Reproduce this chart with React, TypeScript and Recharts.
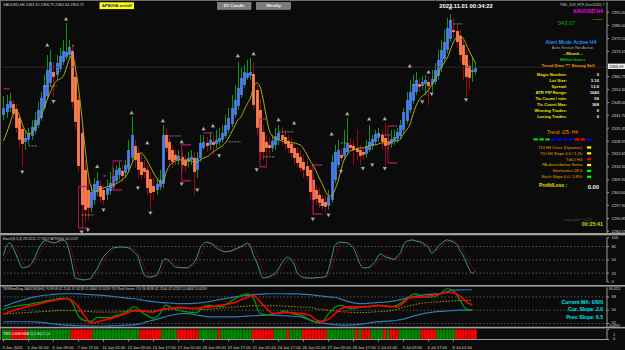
import React from "react";
import {
  ComposedChart,
  Bar,
  Line,
  Scatter,
  XAxis,
  YAxis,
  ReferenceLine,
  Cell,
} from "recharts";

// Heiken Ashi candles, H4 XAUUSD (one value per bar)
const haOpen = [
  2341.9, 2343.3, 2345.3, 2347.3, 2344.8, 2340.4, 2335.0, 2328.6, 2329.6, 2331.5,
  2334.0, 2336.9, 2340.4, 2345.3, 2351.2, 2357.6, 2363.0, 2361.6, 2364.5, 2368.0,
  2370.4, 2371.4, 2373.4, 2360.6, 2349.3, 2333.0, 2314.8, 2304.9, 2296.1, 2300.0,
  2303.9, 2306.9, 2304.9, 2302.5, 2304.4, 2306.4, 2309.4, 2312.3, 2314.3, 2313.3,
  2315.3, 2320.7, 2326.6, 2323.1, 2318.7, 2315.8, 2314.8, 2310.3, 2306.9, 2304.9,
  2306.4, 2307.9, 2332.0, 2328.6, 2324.6, 2322.2, 2319.7, 2321.2, 2319.7, 2318.7,
  2319.7, 2320.7, 2314.8, 2320.7, 2325.6, 2328.1, 2327.1, 2328.6, 2327.6, 2328.6,
  2329.6, 2331.5, 2334.5, 2337.4, 2341.9, 2346.3, 2351.7, 2356.6, 2360.1, 2361.1,
  2362.1, 2354.2, 2344.3, 2333.5, 2328.6, 2327.1, 2325.6, 2327.1, 2329.6, 2332.0,
  2331.0, 2329.1, 2327.6, 2325.6, 2323.1, 2321.2, 2318.7, 2316.7, 2314.8, 2309.9,
  2304.9, 2302.5, 2300.5, 2299.0, 2297.5, 2300.0, 2309.9, 2317.2, 2322.2, 2321.7,
  2323.6, 2327.1, 2326.6, 2325.6, 2324.6, 2323.6, 2322.7, 2324.6, 2326.6, 2328.6,
  2330.5, 2332.0, 2330.5, 2328.6, 2327.6, 2329.1, 2330.0, 2331.5, 2334.5, 2338.9,
  2344.3, 2348.8, 2353.2, 2357.1, 2356.1, 2357.1, 2358.1, 2357.1, 2358.1, 2361.1,
  2365.0, 2369.4, 2373.9, 2379.3, 2383.7, 2383.2, 2380.8, 2376.3, 2371.4, 2366.0,
  2363.0, 2363.0,
];
const haClose = [
  2345.3, 2347.3, 2348.8, 2342.4, 2335.5, 2329.6, 2327.6, 2330.5, 2333.0, 2336.0,
  2339.4, 2344.3, 2350.2, 2356.6, 2364.0, 2368.0, 2360.6, 2367.5, 2370.9, 2373.4,
  2372.9, 2375.4, 2348.3, 2338.4, 2316.7, 2297.5, 2295.1, 2296.1, 2303.9, 2307.9,
  2309.4, 2301.5, 2300.0, 2305.9, 2308.4, 2311.8, 2314.8, 2315.8, 2311.8, 2317.2,
  2324.6, 2332.0, 2319.7, 2314.8, 2312.3, 2313.8, 2305.9, 2303.4, 2303.9, 2307.9,
  2309.9, 2332.0, 2325.6, 2319.7, 2318.7, 2319.7, 2321.7, 2317.2, 2316.7, 2320.7,
  2321.2, 2313.8, 2320.7, 2328.1, 2328.6, 2326.6, 2329.6, 2327.1, 2329.6, 2330.5,
  2333.0, 2336.9, 2340.4, 2345.3, 2349.3, 2355.2, 2360.1, 2363.0, 2362.5, 2363.0,
  2346.8, 2335.5, 2323.6, 2323.6, 2325.6, 2325.6, 2329.1, 2331.5, 2333.0, 2329.6,
  2327.6, 2325.6, 2323.1, 2320.7, 2318.2, 2315.8, 2314.8, 2311.8, 2303.9, 2300.0,
  2300.5, 2298.5, 2297.0, 2296.6, 2301.5, 2318.7, 2323.6, 2324.6, 2320.7, 2325.6,
  2328.1, 2325.6, 2324.6, 2323.6, 2321.7, 2322.2, 2326.6, 2328.6, 2330.0, 2332.5,
  2333.0, 2328.6, 2326.6, 2327.1, 2330.0, 2331.0, 2333.5, 2336.9, 2343.3, 2349.3,
  2353.2, 2357.1, 2359.1, 2355.7, 2358.1, 2359.1, 2356.1, 2359.6, 2364.0, 2369.0,
  2373.9, 2377.8, 2384.7, 2388.7, 2382.7, 2377.8, 2371.4, 2366.5, 2360.6, 2360.1,
  2364.0, 2365.0,
];
const haHigh = [
  2351.2, 2351.7, 2352.7, 2349.3, 2347.3, 2342.4, 2336.9, 2333.5, 2335.5, 2339.4,
  2343.3, 2348.3, 2353.2, 2361.6, 2371.4, 2373.9, 2368.0, 2371.4, 2374.9, 2378.8,
  2387.2, 2378.8, 2376.8, 2369.0, 2351.7, 2335.5, 2319.7, 2309.9, 2307.4, 2310.8,
  2313.8, 2309.9, 2307.4, 2309.9, 2313.8, 2315.8, 2317.2, 2318.7, 2317.2, 2319.7,
  2329.6, 2340.9, 2329.6, 2326.1, 2322.2, 2319.7, 2317.2, 2313.8, 2310.8, 2310.8,
  2314.8, 2336.9, 2335.5, 2330.5, 2327.1, 2324.6, 2324.6, 2324.6, 2322.2, 2323.6,
  2324.6, 2323.6, 2323.6, 2332.0, 2332.0, 2331.0, 2333.5, 2332.0, 2334.5, 2335.5,
  2336.9, 2341.9, 2345.3, 2351.7, 2356.6, 2368.0, 2365.0, 2366.5, 2369.0, 2369.9,
  2368.0, 2356.6, 2349.3, 2336.9, 2332.0, 2330.5, 2332.0, 2335.5, 2336.9, 2335.5,
  2334.5, 2332.0, 2330.5, 2328.6, 2325.6, 2324.6, 2322.2, 2320.7, 2317.2, 2312.3,
  2307.4, 2305.9, 2302.5, 2302.0, 2304.9, 2322.2, 2327.1, 2329.6, 2325.6, 2334.5,
  2340.4, 2330.5, 2329.6, 2334.5, 2327.1, 2325.6, 2329.6, 2336.9, 2332.0, 2334.5,
  2335.5, 2334.5, 2337.9, 2332.0, 2334.5, 2334.5, 2335.5, 2339.4, 2345.3, 2353.2,
  2359.1, 2361.6, 2363.0, 2360.1, 2361.1, 2361.6, 2361.1, 2364.0, 2367.5, 2373.9,
  2378.8, 2383.7, 2389.6, 2391.6, 2389.6, 2386.7, 2383.7, 2378.8, 2373.9, 2369.0,
  2369.9, 2368.0,
];
const haLow = [
  2339.4, 2340.4, 2343.3, 2340.4, 2333.0, 2325.6, 2316.3, 2324.6, 2327.1, 2329.6,
  2332.5, 2335.5, 2338.9, 2344.3, 2349.7, 2356.1, 2350.7, 2359.1, 2363.0, 2366.5,
  2369.0, 2369.9, 2345.3, 2334.5, 2313.8, 2286.2, 2289.2, 2290.2, 2294.1, 2297.5,
  2302.0, 2298.5, 2297.5, 2300.0, 2302.5, 2304.9, 2307.9, 2309.9, 2308.9, 2310.8,
  2313.8, 2318.7, 2315.8, 2310.8, 2309.9, 2310.8, 2302.5, 2295.1, 2300.0, 2302.5,
  2304.9, 2305.9, 2323.6, 2317.2, 2315.8, 2317.2, 2317.2, 2313.8, 2313.8, 2315.8,
  2317.2, 2302.5, 2310.8, 2318.7, 2324.6, 2323.6, 2324.6, 2322.2, 2325.6, 2326.6,
  2328.1, 2330.5, 2333.0, 2336.0, 2340.4, 2344.3, 2350.2, 2355.2, 2359.1, 2359.1,
  2344.3, 2332.0, 2319.7, 2319.7, 2315.8, 2322.2, 2323.6, 2324.6, 2327.1, 2327.1,
  2324.6, 2323.1, 2320.7, 2317.2, 2315.8, 2313.8, 2310.8, 2309.9, 2300.0, 2292.6,
  2297.5, 2296.1, 2295.1, 2294.1, 2295.1, 2298.5, 2308.4, 2315.8, 2318.7, 2319.7,
  2322.2, 2323.6, 2317.2, 2319.7, 2317.2, 2319.7, 2320.7, 2323.6, 2324.6, 2327.1,
  2328.6, 2324.6, 2317.2, 2324.6, 2325.6, 2327.1, 2328.1, 2329.6, 2333.0, 2337.4,
  2342.8, 2347.3, 2351.7, 2353.2, 2354.2, 2351.7, 2346.8, 2353.2, 2356.6, 2359.1,
  2363.0, 2367.5, 2372.4, 2377.8, 2379.8, 2374.9, 2368.0, 2359.1, 2350.7, 2354.2,
  2358.1, 2361.6,
];
// olive moving average over the candles
const maLine = [
  2329.1, 2333.0, 2337.4, 2341.9, 2344.3, 2341.9, 2337.4, 2334.0, 2332.5, 2333.0,
  2335.5, 2338.4, 2341.4, 2345.3, 2349.3, 2353.2, 2356.6, 2358.6, 2359.6, 2360.6,
  2364.5, 2369.0, 2371.4, 2365.0, 2355.2, 2341.9, 2327.1, 2313.8, 2306.4, 2303.9,
  2304.4, 2305.4, 2305.9, 2306.4, 2306.9, 2307.4, 2307.9, 2308.9, 2309.9, 2311.3,
  2313.8, 2317.7, 2320.7, 2322.7, 2323.1, 2321.7, 2319.2, 2316.3, 2313.3, 2310.8,
  2308.9, 2308.4, 2313.3, 2316.7, 2318.2, 2319.2, 2319.7, 2319.7, 2319.7, 2319.7,
  2319.2, 2318.7, 2318.7, 2319.7, 2320.7, 2321.2, 2322.2, 2323.6, 2324.6, 2325.6,
  2326.6, 2328.1, 2330.5, 2333.5, 2336.4, 2339.4, 2340.9, 2344.3, 2347.3, 2350.2,
  2355.2, 2357.6, 2356.1, 2350.2, 2341.9, 2334.5, 2331.5, 2330.0, 2329.6, 2329.1,
  2328.6, 2328.6, 2328.1, 2328.1, 2327.6, 2327.1, 2325.1, 2322.7, 2319.7, 2317.2,
  2314.3, 2310.8, 2307.9, 2304.4, 2302.0, 2302.0, 2304.9, 2308.9, 2314.8, 2319.7,
  2322.2, 2324.1, 2324.6, 2325.1, 2325.6, 2325.6, 2326.1, 2326.6, 2327.1, 2327.1,
  2327.6, 2328.1, 2328.1, 2328.6, 2328.6, 2329.1, 2329.1, 2330.0, 2332.5, 2334.5,
  2336.9, 2341.9, 2346.3, 2349.3, 2351.2, 2352.2, 2354.2, 2356.6, 2359.1, 2362.1,
  2365.0, 2367.5, 2369.9, 2373.9, 2377.8, 2380.3, 2380.8, 2379.8, 2376.8, 2373.4,
  2370.4, 2367.5,
];

// fractal markers: bar index + price
const upFractalBar = [14, 20, 30, 41, 46, 51, 57, 64, 67, 75, 80, 88, 93, 105, 110, 117, 122, 130, 136, 143];
const upFractalPrice = [2376.3, 2389.1, 2316.5, 2343.0, 2328.1, 2339.0, 2328.6, 2335.0, 2336.5, 2371.0, 2372.0, 2339.5, 2337.9, 2332.5, 2342.5, 2339.9, 2340.0, 2366.0, 2363.0, 2394.6];
const dnFractalBar = [6, 16, 25, 27, 32, 43, 47, 57, 62, 69, 81, 99, 104, 108, 115, 118, 122, 134, 137, 148];
const dnFractalPrice = [2313.8, 2348.5, 2284.2, 2285.2, 2295.0, 2305.9, 2293.6, 2307.9, 2304.9, 2321.7, 2314.8, 2290.5, 2292.5, 2314.0, 2315.5, 2317.2, 2315.5, 2348.3, 2352.2, 2349.3];

// magenta range boxes (start bar, end bar, top, bottom)
const boxStart = [24, 35, 57, 82, 99, 123];
const boxEnd = [27, 38, 60, 84, 102, 126];
const boxTop = [2306.6, 2319.2, 2327.1, 2339.9, 2317.2, 2336.4];
const boxBottom = [2286.2, 2304.9, 2309.4, 2316.3, 2293.1, 2318.2];
// single magenta levels
const pinkStart = [0, 64];
const pinkEnd = [2, 67];
const pinkPrice = [2354.7, 2333.0];
// short grey levels
const greyStart = [8, 13, 22, 25, 32, 53, 72, 83, 88, 101, 108, 120, 131, 144];
const greyEnd = [11, 17, 23, 29, 33, 57, 76, 87, 93, 105, 110, 124, 133, 147];
const greyPrice = [2326.6, 2356.1, 2375.8, 2292.6, 2311.8, 2331.5, 2328.6, 2321.2, 2333.5, 2297.5, 2328.1, 2332.0, 2356.6, 2386.7];

// Stochastic (8,3,3)
const stochMain = [
  60, 82, 88, 78, 62, 45, 32, 33, 36, 42,
  55, 72, 85, 93, 93, 90, 88, 90, 93, 95,
  90, 70, 38, 9, 7, 5, 5, 6, 9, 20,
  30, 45, 57, 65, 72, 77, 78, 79, 79, 78,
  77, 72, 66, 58, 35, 16, 12, 11, 13, 16,
  30, 48, 52, 47, 40, 34, 33, 32, 32, 32,
  38, 44, 58, 78, 86, 90, 88, 84, 78, 73,
  70, 68, 69, 71, 74, 77, 80, 84, 88, 80,
  60, 45, 25, 9, 10, 12, 16, 20, 30, 42,
  52, 56, 50, 40, 20, 14, 10, 9, 9, 9,
  10, 10, 11, 12, 28, 55, 82, 88, 90, 89,
  88, 83, 76, 60, 42, 32, 32, 33, 40, 46,
  60, 63, 57, 55, 53, 51, 58, 66, 84, 92,
  94, 95, 92, 91, 88, 83, 78, 65, 70, 80,
  86, 92, 95, 93, 90, 85, 72, 61, 45, 30,
  20, 25,
];
const stochSignal = [
  50, 62, 75, 83, 76, 62, 46, 37, 34, 37,
  44, 56, 70, 83, 90, 92, 90, 89, 90, 93,
  93, 85, 66, 39, 18, 7, 6, 6, 7, 12,
  20, 32, 44, 56, 65, 71, 76, 78, 79, 79,
  78, 76, 72, 65, 53, 36, 21, 13, 12, 13,
  20, 31, 43, 49, 46, 40, 36, 33, 32, 32,
  34, 38, 47, 60, 74, 85, 88, 87, 83, 78,
  74, 70, 69, 69, 71, 74, 77, 80, 84, 84,
  76, 62, 43, 26, 15, 10, 13, 16, 22, 31,
  41, 50, 53, 49, 37, 25, 15, 11, 9, 9,
  9, 10, 10, 11, 17, 32, 55, 75, 87, 89,
  89, 87, 82, 73, 59, 45, 35, 32, 35, 40,
  49, 56, 60, 58, 55, 53, 54, 58, 69, 81,
  90, 94, 94, 93, 90, 87, 83, 75, 71, 72,
  79, 86, 91, 93, 93, 89, 82, 73, 59, 45,
  32, 28,
];

// TDI, read every second bar
const tdiRsi = [
  51, 54, 55.5, 57, 58, 59.5, 61, 63, 64.5, 66,
  66, 60, 42, 36, 35, 40, 40, 40, 43, 45,
  50, 55, 48, 43, 39, 45, 57, 53, 50, 48,
  47, 47, 55, 56.5, 55, 55, 60, 65, 70, 72,
  66, 46, 44, 44.5, 46, 49, 46, 44, 42, 37,
  34, 35, 45, 54, 56.5, 53.5, 52, 54, 54.5, 55,
  56.5, 55.5, 54.5, 57, 62, 69, 72, 68.5, 67.5, 68.5,
  73, 79, 76, 64, 52, 50,
];
const tdiSignal = [
  44.5, 48, 51, 53, 55.5, 57, 59, 61.5, 63, 64.5,
  65.5, 63, 54, 42, 33, 34, 36.5, 38.5, 41, 44,
  47, 50, 49.5, 48, 47.5, 50, 52, 53, 54, 53.5,
  52.5, 53, 54, 54.5, 56, 57, 58.5, 60.5, 64, 67.5,
  69.5, 62, 53, 46, 46, 46.5, 47, 46, 45, 43.5,
  37, 35, 38, 45, 52, 54.5, 54.5, 54.5, 55, 55.5,
  56.5, 56, 55, 54.5, 60, 67, 67.5, 68, 69, 70.5,
  72.5, 74, 73.5, 69, 62, 57,
];
const tdiUpper = [
  55, 58, 61, 63.5, 66, 68, 69.5, 70.5, 71.5, 72,
  72.2, 72.2, 72, 71.5, 71, 70.5, 70, 69, 68, 67,
  66, 65.5, 64, 62.5, 61.5, 60.5, 60, 59.5, 59, 59,
  59, 59.5, 60.5, 62, 63.5, 65, 66.5, 68, 69, 70,
  71, 71.5, 72, 72.2, 72.2, 72.2, 72, 72, 71.5, 71,
  70, 69, 68, 67.5, 65, 62, 60, 59, 59, 60,
  60.5, 61, 62, 63.5, 65, 67.5, 69, 70.5, 71.5, 72,
  72.5, 75, 77, 77.5, 77.6, 77.6,
];
const tdiLower = [
  34.4, 34.4, 34.4, 34.4, 34.4, 34.2, 33.5, 32.5, 31.5, 30.5,
  30, 29.5, 29, 28.8, 28.7, 28.7, 28.7, 28.8, 29, 29.5,
  30, 30.5, 32, 34.5, 36.7, 39, 41.5, 43.5, 45, 45.6,
  45, 43.5, 42, 41, 41, 41, 41, 41, 41.5, 42,
  42.5, 43, 43.3, 43.3, 43, 42.5, 42, 41.5, 40, 37,
  34, 32.5, 31.5, 30.5, 30, 30, 30.2, 31, 32, 33.5,
  34.5, 35, 35.5, 36.5, 38, 40.5, 43, 45, 46.5, 47.8,
  48.5, 49, 49.5, 50, 50, 50,
];
const tdiMid = [
  45, 45.5, 46, 46.5, 47, 47.5, 48, 48.5, 49, 49.5,
  49.5, 49.5, 49, 48.5, 48, 47.5, 47.5, 47.5, 47.5, 48,
  48.5, 48.5, 48.5, 49, 49, 50, 51, 51.5, 52, 52.5,
  52, 51.5, 51, 51.5, 52.5, 53, 54, 54.5, 55, 55.5,
  56, 56, 56, 56, 56, 55.5, 55, 54.5, 54, 54,
  52, 51, 50, 49, 48, 47.5, 47, 47, 47, 47.5,
  48, 48.5, 49.5, 51, 54, 56, 58, 59.5, 60.5, 61,
  61.5, 62, 62.5, 63, 63.3, 63.3,
];

// OsMA histogram: 1 = green, 0 = red
const osmaUp = [
  1, 1, 1, 0, 0, 0, 0, 0, 1, 1, 1, 1, 1, 1, 1, 1, 1, 1, 1, 1,
  1, 1, 0, 0, 0, 0, 0, 0, 0, 1, 1, 1, 1, 1, 1, 1, 1, 1, 1, 1,
  1, 1, 1, 1, 0, 0, 0, 0, 0, 0, 0, 1, 1, 1, 1, 1, 0, 0, 0, 0,
  0, 0, 0, 1, 1, 1, 1, 1, 1, 0, 1, 1, 1, 1, 1, 1, 1, 1, 1, 1,
  0, 0, 0, 0, 0, 0, 0, 1, 1, 1, 1, 0, 1, 1, 1, 1, 0, 0, 0, 0,
  0, 0, 0, 0, 1, 1, 1, 1, 1, 1, 1, 1, 1, 0, 1, 0, 0, 0, 1, 1,
  1, 1, 0, 1, 0, 0, 0, 1, 1, 1, 1, 1, 1, 1, 0, 0, 0, 0, 0, 1,
  1, 1, 1, 1, 1, 0, 0, 0, 0, 0, 0, 0,
];

const priceTicks = [
  2284.55, 2290.85, 2297.3, 2303.6, 2309.9, 2316.3, 2322.65, 2328.95, 2335.35,
  2341.7, 2348.0, 2354.3, 2360.75, 2373.15, 2379.5, 2386.0, 2392.4,
];
const timeLabels = [
  "3 Jun 2024", "5 Jun 01:00", "6 Jun 09:00", "7 Jun 17:00", "11 Jun 01:00",
  "12 Jun 09:00", "13 Jun 17:00", "17 Jun 01:00", "18 Jun 09:00", "19 Jun 17:00",
  "21 Jun 01:00", "24 Jun 17:00", "26 Jun 01:00", "27 Jun 09:00", "28 Jun 17:00",
  "2 Jul 01:00", "3 Jul 09:00", "4 Jul 17:00", "8 Jul 01:00",
];
const timeTickBars = timeLabels.map((_, k) => k * 8);

const statLabels = ["Magic Number:", "Lot Size:", "Spread:", "ATR PIP Range:", "Tic Count / min:", "Tic Count Max:", "Winning Trades:", "Losing Trades:"];
const statValues = ["0", "3.16", "13.0", "1040", "56", "368", "0", "0"];
const trendBoxes = ["#00e000", "#00e000", "#00e000", "#0000ff", "#0000ff", "#0000ff", "#0000ff", "#ff0000", "#ff0000", "#0000ff"];
const signalLabels = ["TDI H4 Cross (Dynamic):", "TDI H4 Slope 4.0 / 1.2h:", "TdiCt H4:", "PA above/below Sema:", "Stochastics 28.3:", "Stoch Slope 4.0 / 5.8%:"];
const signalColors = ["#ffff00", "#ffff00", "#ff0000", "#ffff00", "#00ff00", "#00ff00"];

const FONT = "'Liberation Sans', Arial, sans-serif";
const X_DOMAIN: [number, number] = [-0.48, 193.12];
const AXIS = "#9a9a9a";
const BG = "#0b0b0b";
const PINK = "#c4166f";

const bars = haOpen.map((o, i) => ({
  i,
  o,
  c: haClose[i],
  h: haHigh[i],
  l: haLow[i],
  range: [haLow[i], haHigh[i]],
  ma: maLine[i],
  k: stochMain[i],
  d: stochSignal[i],
  one: 1,
}));
const tdiRows = tdiRsi.map((v, k) => ({
  i: k * 2,
  rsi: v,
  sig: tdiSignal[k],
  up: tdiUpper[k],
  lo: tdiLower[k],
  mid: tdiMid[k],
}));
const upFractals = upFractalBar.map((i, k) => ({ i, p: upFractalPrice[k] }));
const dnFractals = dnFractalBar.map((i, k) => ({ i, p: dnFractalPrice[k] }));

const HaCandle = (props: any) => {
  const { x, y, width, height, payload } = props;
  if (height == null || !payload) return null;
  const { o, c, h, l } = payload;
  const k = height / (h - l || 1);
  const cx = Math.round(x + width / 2) + 0.5;
  const top = y + (h - Math.max(o, c)) * k;
  const bot = y + (h - Math.min(o, c)) * k;
  const bull = c >= o;
  return (
    <g>
      <line x1={cx} x2={cx} y1={y} y2={y + height} stroke={bull ? "#0b9a0b" : "#9e0a0a"} strokeWidth={1} />
      <rect x={cx - 1.4} y={top} width={2.8} height={Math.max(bot - top, 0.8)} fill={bull ? "#4a7fe6" : "#ff7f50"} />
    </g>
  );
};

const FractalUp = (p: any) => (
  <path d={`M${p.cx - 2},${p.cy + 1.5} L${p.cx},${p.cy - 2} L${p.cx + 2},${p.cy + 1.5} Z`} fill="#b8b8b8" stroke="#555" strokeWidth={0.4} />
);
const FractalDn = (p: any) => (
  <path d={`M${p.cx - 2},${p.cy - 1.5} L${p.cx},${p.cy + 2} L${p.cx + 2},${p.cy - 1.5} Z`} fill="#b8b8b8" stroke="#555" strokeWidth={0.4} />
);

const axisTick = (fmt: (v: number) => string, dy = 1.4) => (p: any) => (
  <text x={p.x + 0.5} y={p.y + dy} fontSize={4} fill="#d6d6d6" fontFamily={FONT}>
    {fmt(p.payload.value)}
  </text>
);

const TimeTick = (p: any) => (
  <text x={p.x - 1} y={p.y + 5} fontSize={4} fill="#d6d6d6" fontFamily={FONT}>
    {timeLabels[timeTickBars.indexOf(p.payload.value)]}
  </text>
);

const seg = (a: number, b: number, p: number) => [
  { x: a, y: p },
  { x: b, y: p },
];

const panel = (top: number): React.CSSProperties => ({ position: "absolute", left: 0, top });

export default function App() {
  return (
    <div style={{ position: "fixed", left: 0, top: 0, width: 625, height: 350, background: BG, overflow: "hidden", fontFamily: FONT }}>
      {/* price panel */}
      <div style={panel(0)}>
        <ComposedChart width={625} height={236} data={bars} margin={{ top: 2, right: 0, bottom: 3, left: 2 }}>
          <XAxis type="number" dataKey="i" domain={X_DOMAIN} allowDataOverflow hide />
          <YAxis
            orientation="right"
            width={18}
            domain={[2283.7, 2397.5]}
            allowDataOverflow
            ticks={priceTicks}
            interval={0}
            stroke={AXIS}
            tickSize={2}
            tick={axisTick((v) => v.toFixed(2))}
          />
          <ReferenceLine y={2365.4} stroke="#3a3a3a" strokeWidth={0.6} />
          {greyStart.map((a, k) => (
            <ReferenceLine key={`g${k}`} segment={seg(a, greyEnd[k], greyPrice[k])} stroke="#a6a6a6" strokeWidth={0.8} strokeDasharray="2 1" />
          ))}
          {pinkStart.map((a, k) => (
            <ReferenceLine key={`p${k}`} segment={seg(a, pinkEnd[k], pinkPrice[k])} stroke={PINK} strokeWidth={1.2} />
          ))}
          {boxStart.map((a, k) => (
            <React.Fragment key={`b${k}`}>
              <ReferenceLine segment={seg(a, boxEnd[k], boxTop[k])} stroke={PINK} strokeWidth={1.2} />
              <ReferenceLine segment={seg(a, boxEnd[k], boxBottom[k])} stroke={PINK} strokeWidth={1.2} />
              <ReferenceLine segment={[{ x: a, y: boxTop[k] }, { x: a, y: boxBottom[k] }]} stroke={PINK} strokeWidth={0.8} />
            </React.Fragment>
          ))}
          <Bar dataKey="range" barSize={3} shape={HaCandle} isAnimationActive={false} />
          <Line dataKey="ma" type="monotone" stroke="#b2a812" strokeWidth={1} dot={false} isAnimationActive={false} />
          <Scatter data={upFractals} dataKey="p" shape={FractalUp} isAnimationActive={false} />
          <Scatter data={dnFractals} dataKey="p" shape={FractalDn} isAnimationActive={false} />
        </ComposedChart>
      </div>

      {/* stochastic */}
      <div style={panel(235)}>
        <ComposedChart width={625} height={50} data={bars} margin={{ top: 2.7, right: 0, bottom: 3, left: 2 }}>
          <XAxis type="number" dataKey="i" domain={X_DOMAIN} allowDataOverflow hide />
          <YAxis orientation="right" width={18} domain={[0, 100]} ticks={[0, 20, 50, 80, 100]} interval={0} stroke={AXIS} tickSize={2} tick={axisTick((v) => String(v))} />
          {[80, 50, 20].map((v) => (
            <ReferenceLine key={v} y={v} stroke="#6a6a6a" strokeDasharray="1.5 2" strokeWidth={0.8} />
          ))}
          <Line dataKey="d" type="monotone" stroke="#b40000" strokeWidth={1} strokeDasharray="1.5 1.2" dot={false} isAnimationActive={false} />
          <Line dataKey="k" type="monotone" stroke="#2f9c9c" strokeWidth={1} dot={false} isAnimationActive={false} />
        </ComposedChart>
      </div>

      {/* TDI */}
      <div style={panel(286.5)}>
        <ComposedChart width={625} height={40.5} data={tdiRows} margin={{ top: 0.5, right: 0, bottom: 0, left: 2 }}>
          <XAxis type="number" dataKey="i" domain={X_DOMAIN} allowDataOverflow hide />
          <YAxis orientation="right" width={18} domain={[26.67, 80.67]} allowDataOverflow ticks={[32, 50, 68]} interval={0} stroke={AXIS} tickSize={2} tick={axisTick((v) => String(v), 0.8)} />
          {[68, 50, 32].map((v) => (
            <ReferenceLine key={v} y={v} stroke="#6a6a6a" strokeDasharray="1.5 2" strokeWidth={0.8} />
          ))}
          <Line dataKey="up" type="monotone" stroke="#2b7bb5" strokeWidth={1.2} dot={false} isAnimationActive={false} />
          <Line dataKey="lo" type="monotone" stroke="#2b7bb5" strokeWidth={1.2} dot={false} isAnimationActive={false} />
          <Line dataKey="mid" type="monotone" stroke="#a89a00" strokeWidth={1} strokeDasharray="1.5 1.5" dot={false} isAnimationActive={false} />
          <Line dataKey="rsi" type="monotone" stroke="#00a000" strokeWidth={1.2} dot={false} isAnimationActive={false} />
          <Line dataKey="sig" type="monotone" stroke="#ff0000" strokeWidth={1.6} dot={false} isAnimationActive={false} />
        </ComposedChart>
      </div>

      {/* OsMA colour histogram + time axis */}
      <div style={panel(328.5)}>
        <ComposedChart width={625} height={21.5} data={bars} margin={{ top: 0.5, right: 0, bottom: 0, left: 2 }}>
          <XAxis
            type="number"
            dataKey="i"
            domain={X_DOMAIN}
            allowDataOverflow
            ticks={timeTickBars}
            interval={0}
            height={11}
            stroke={AXIS}
            tickSize={2}
            tick={TimeTick}
          />
          <YAxis orientation="right" width={18} domain={[0, 1]} ticks={[0, 1]} interval={0} stroke={AXIS} tickSize={2} tick={(p: any) => (
            <text x={p.x + 2} y={p.y + (p.payload.value === 1 ? 6 : 0.5)} fontSize={4} fill="#d6d6d6" fontFamily={FONT}>{p.payload.value}</text>
          )} />
          <Bar dataKey="one" barSize={2.9} isAnimationActive={false}>
            {bars.map((b) => (
              <Cell key={b.i} fill={osmaUp[b.i] ? "#008a00" : "#ff0000"} />
            ))}
          </Bar>
        </ComposedChart>
      </div>

      {/* frame, separators and on-chart texts */}
      <svg width={625} height={350} style={{ position: "absolute", left: 0, top: 0, pointerEvents: "none" }} fontFamily={FONT}>
        <rect x={0} y={0} width={625} height={1} fill="#6a6a6a" />
        <rect x={0} y={0} width={1} height={340} fill="#6a6a6a" />
        <rect x={0} y={233} width={625} height={2.3} fill="#a0a0a0" />
        <rect x={0} y={285} width={625} height={1.6} fill="#a0a0a0" />
        <rect x={0} y={326.8} width={625} height={1.6} fill="#a0a0a0" />

        <text x={3} y={6.2} fontSize={3.8} fill="#cfcfcf">XAUUSD,H4  2363.35 2366.75 2360.34 2363.72</text>
        <rect x={99.5} y={2.3} width={34.5} height={6.8} fill="#ffff00" />
        <text x={116.7} y={7.3} fontSize={4.4} fontWeight="bold" fill="#1a1aa0" textAnchor="middle">APB/HA on/off</text>
        <rect x={217.5} y={2.5} width={33.5} height={6.8} fill="#7c7c7c" stroke="#a8a8a8" strokeWidth={0.5} />
        <text x={234.2} y={7.4} fontSize={4.3} fontWeight="bold" fill="#f0f0f0" textAnchor="middle">D1 Candle</text>
        <rect x={256.5} y={2.5} width={34} height={6.8} fill="#7c7c7c" stroke="#a8a8a8" strokeWidth={0.5} />
        <text x={273.5} y={7.4} fontSize={4.3} fontWeight="bold" fill="#f0f0f0" textAnchor="middle">Weekly</text>
        <text x={466} y={7.8} fontSize={5.8} fontWeight="bold" fill="#ffffff" textAnchor="middle">2023.11.01 00:34:22</text>

        <text x={605} y={5.8} fontSize={3.5} fill="#c8c8c8" textAnchor="end">TMS_V18_HTF (Dec2020) ©</text>
        <text x={603} y={12.6} fontSize={5.2} fontWeight="bold" fill="#ff00ff" textAnchor="end">XAUUSD H4</text>
        <text x={558} y={24.6} fontSize={5.6} fill="#00b400">043:07</text>
        <line x1={593} x2={603} y1={19.5} y2={19.5} stroke="#d07a00" strokeWidth={0.8} strokeDasharray="1 0.6" />
        <text x={571} y={43.6} fontSize={5.1} fontWeight="bold" fill="#1e8fff" textAnchor="middle">Alert Mode Active H4</text>
        <text x={572.5} y={48.8} fontSize={4} fill="#a8a8a8" textAnchor="middle">Auto Restart Not Active</text>
        <text x={572.5} y={55} fontSize={4.4} fontWeight="bold" fill="#e8e800" textAnchor="middle">...Mixed...</text>
        <text x={572.5} y={60.8} fontSize={4.2} fontWeight="bold" fill="#00c800" textAnchor="middle">Within hours</text>
        <text x={568} y={66.6} fontSize={4.4} fontWeight="bold" fill="#ff9000" textAnchor="middle">Trend Dwn *** Strong Sell</text>

        {statLabels.map((s, k) => (
          <g key={s}>
            <text x={567} y={75.8 + k * 6} fontSize={4.2} fontWeight="bold" fill="#e8e800" textAnchor="end">{s}</text>
            <text x={599} y={75.8 + k * 6} fontSize={4.2} fontWeight="bold" fill="#f2f2f2" textAnchor="end">{statValues[k]}</text>
          </g>
        ))}

        <text x={562.5} y={134.4} fontSize={4.8} fill="#ff9000" textAnchor="middle">Trend -2/5- H4</text>
        {trendBoxes.map((c, k) => (
          <rect key={k} x={533.5 + k * 5.9} y={138.3} width={4.4} height={2.2} fill={c} />
        ))}
        {signalLabels.map((s, k) => (
          <g key={s}>
            <text x={583} y={148.8 + k * 5.85} fontSize={4} fill="#f0a000" textAnchor="end">{s}</text>
            <rect x={587} y={146.4 + k * 5.85} width={4.2} height={2.2} fill={signalColors[k]} />
          </g>
        ))}
        <text x={553} y={186.6} fontSize={4.8} fontWeight="bold" fill="#e8e800" textAnchor="middle">Profit/Loss :</text>
        <text x={599} y={188.6} fontSize={5.8} fontWeight="bold" fill="#f2f2f2" textAnchor="end">0.00</text>

        <text x={563} y={220.5} fontSize={4} fill="#4a4a4a">Copyright©2016</text>
        <text x={603} y={226.3} fontSize={5.3} fontWeight="bold" fill="#d8d800" textAnchor="end">00:25:41</text>

        <rect x={608} y={63.6} width={17} height={5.4} fill="#eeeeee" />
        <text x={609} y={67.6} fontSize={4} fill="#000">2366.09</text>

        <text x={2.5} y={240.4} fontSize={3.6} fill="#cfcfcf">Stoch(8,3,3) 28.3211 27.9617  ATR(60) 10.1529</text>
        <text x={2.5} y={290.2} fontSize={3.4} fill="#cfcfcf">TMSSmdDng-XAUUSD[H4] 76.8958 62.2144 47.6228 51.0666 55.0209   TDI Red Green #13 76.8958 62.2144 47.6228 51.0666 55.0209</text>
        <text x={609} y={289.6} fontSize={3.4} fill="#d6d6d6">80.6111</text>
        <text x={609} y={327.4} fontSize={3} fill="#d6d6d6">26.6997</text>
        <text x={603} y={303.6} fontSize={5} fontWeight="bold" fill="#00e8f0" textAnchor="end">Current MA: 0/0/0</text>
        <text x={603} y={311.4} fontSize={5} fontWeight="bold" fill="#00e8f0" textAnchor="end">Cur. Slope: 2.0</text>
        <text x={603} y={319.2} fontSize={5} fontWeight="bold" fill="#00e8f0" textAnchor="end">Prev. Slope: 0.5</text>
        <text x={3} y={335.2} fontSize={3.4} fill="#e8e8e8">TMS-OsMA HMA 12,1 80,2 1,0</text>
      </svg>
    </div>
  );
}
